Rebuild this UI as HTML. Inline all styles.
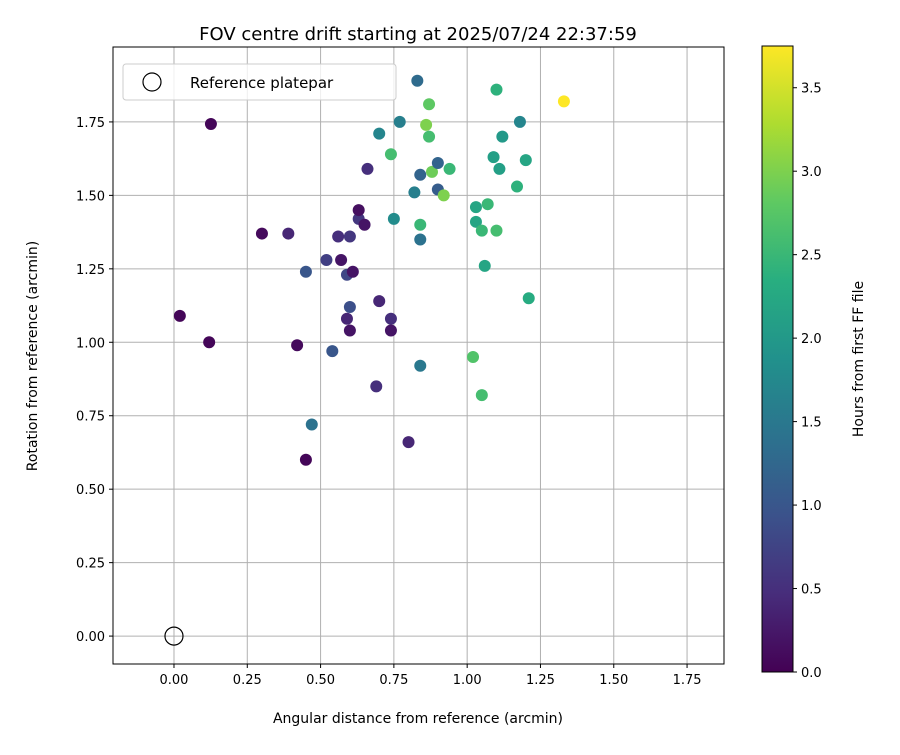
<!DOCTYPE html>
<html><head><meta charset="utf-8"><style>
body{margin:0;background:#fff;font-family:"Liberation Sans","DejaVu Sans",sans-serif;}
svg text{font-family:"DejaVu Sans","Liberation Sans",sans-serif;}
</style></head><body>
<svg id="chart" width="900" height="750" xmlns="http://www.w3.org/2000/svg">
<defs><linearGradient id="vir" x1="0" y1="1" x2="0" y2="0">
<stop offset="0" stop-color="#440154"/><stop offset="0.125" stop-color="#472d7b"/><stop offset="0.25" stop-color="#3b528b"/><stop offset="0.375" stop-color="#2c728e"/><stop offset="0.5" stop-color="#21918c"/><stop offset="0.625" stop-color="#28ae80"/><stop offset="0.75" stop-color="#5ec962"/><stop offset="0.875" stop-color="#addc30"/><stop offset="1" stop-color="#fde725"/></linearGradient></defs>
<g id="g"></g>
</svg>
<script>
const xVals=[0.126,0.30,0.39,0.02,0.12,0.42,0.45,0.45,0.47,0.52,0.54,0.56,0.57,0.59,0.60,0.61,0.60,0.59,0.60,0.63,0.63,0.65,0.66,0.70,0.69,0.70,0.74,0.74,0.74,0.75,0.77,0.80,0.82,0.83,0.84,0.84,0.84,0.84,0.86,0.87,0.87,0.88,0.90,0.90,0.92,0.94,1.02,1.03,1.03,1.05,1.05,1.06,1.07,1.09,1.10,1.10,1.12,1.11,1.17,1.18,1.20,1.21,1.33];
const yVals=[1.743,1.37,1.37,1.09,1.00,0.99,1.24,0.60,0.72,1.28,0.97,1.36,1.28,1.23,1.36,1.24,1.12,1.08,1.04,1.42,1.45,1.40,1.59,1.14,0.85,1.71,1.08,1.04,1.64,1.42,1.75,0.66,1.51,1.89,1.57,1.35,1.40,0.92,1.74,1.81,1.70,1.58,1.61,1.52,1.50,1.59,0.95,1.46,1.41,1.38,0.82,1.26,1.47,1.63,1.86,1.38,1.70,1.59,1.53,1.75,1.62,1.15,1.82];
const hours=[0.05,0.1,0.4,0.05,0.05,0.1,1.0,0.05,1.4,0.7,1.0,0.5,0.2,0.8,0.6,0.2,0.9,0.4,0.2,0.6,0.15,0.2,0.5,0.4,0.5,1.7,0.5,0.2,2.6,1.8,1.6,0.4,1.6,1.3,1.2,1.4,2.5,1.5,3.0,2.8,2.6,2.9,1.2,1.1,3.0,2.5,2.7,2.2,2.2,2.5,2.6,2.2,2.5,2.1,2.4,2.6,2.0,2.1,2.4,1.7,2.2,2.3,3.75];
const xTicks=[0,0.25,0.5,0.75,1.0,1.25,1.5,1.75];
const yTicks=[0,0.25,0.5,0.75,1.0,1.25,1.5,1.75];
const cTicks=[0,0.5,1.0,1.5,2.0,2.5,3.0,3.5];
const L=113,R=724,T=47,B=664,xmin=-0.208,xmax=1.876,ymin=-0.095,ymax=2.005,cmax=3.75;
const X=v=>L+(v-xmin)/(xmax-xmin)*(R-L);
const Y=v=>B-(v-ymin)/(ymax-ymin)*(B-T);
const CT=46,CB=672,CL=762,CR=793;
const C=v=>CB-v/cmax*(CB-CT);
const vir=["#440154","#472d7b","#3b528b","#2c728e","#21918c","#28ae80","#5ec962","#addc30","#fde725"];
function hex(h){return [1,3,5].map(i=>parseInt(h.substr(i,2),16));}
function col(v){let t=Math.max(0,Math.min(1,v/cmax))*8;let i=Math.min(7,Math.floor(t)),f=t-i;let a=hex(vir[i]),b=hex(vir[i+1]);return "rgb("+a.map((c,k)=>Math.round(c+(b[k]-c)*f)).join(",")+")";}
const g=document.getElementById('g');const NS="http://www.w3.org/2000/svg";
function el(t,a,txt){const e=document.createElementNS(NS,t);for(const k in a)e.setAttribute(k,a[k]);if(txt!==undefined)e.textContent=txt;g.appendChild(e);return e;}
let e;
xTicks.forEach(v=>{e=el('line',{x1:X(v),x2:X(v),y1:T,y2:B,stroke:'#b0b0b0','stroke-width':1});
e=el('line',{x1:X(v),x2:X(v),y1:B,y2:B+4,stroke:'#000'});
e=el('text',{x:X(v),y:B+20,'font-size':13,'text-anchor':'middle'},v.toFixed(2));});
yTicks.forEach(v=>{e=el('line',{x1:L,x2:R,y1:Y(v),y2:Y(v),stroke:'#b0b0b0','stroke-width':1});
e=el('line',{x1:L-4,x2:L,y1:Y(v),y2:Y(v),stroke:'#000'});
e=el('text',{x:L-8,y:Y(v)+5,'font-size':13,'text-anchor':'end'},v.toFixed(2));});
xVals.forEach((v,i)=>{e=el('circle',{cx:X(v),cy:Y(yVals[i]),r:6,fill:col(hours[i])});});
e=el('circle',{cx:X(0),cy:Y(0),r:9,fill:'none',stroke:'#000','stroke-width':1.2});
e=el('rect',{x:L,y:T,width:R-L,height:B-T,fill:'none',stroke:'#000','stroke-width':1});
e=el('rect',{x:123,y:64,width:273,height:36,rx:3,fill:'#fff','fill-opacity':0.8,stroke:'#ccc'});
e=el('circle',{cx:152,cy:82,r:9,fill:'none',stroke:'#000','stroke-width':1.2});
e=el('text',{x:190,y:88,'font-size':15},'Reference platepar');
e=el('text',{x:418,y:40,'font-size':18,'text-anchor':'middle'},'FOV centre drift starting at 2025/07/24 22:37:59');
e=el('text',{x:418,y:723,'font-size':14,'text-anchor':'middle'},'Angular distance from reference (arcmin)');
e=el('text',{x:37,y:356,'font-size':14,'text-anchor':'middle',transform:'rotate(-90 37 356)'},'Rotation from reference (arcmin)');
e=el('rect',{x:CL,y:CT,width:CR-CL,height:CB-CT,fill:'url(#vir)',stroke:'#000','stroke-width':1});
cTicks.forEach(v=>{e=el('line',{x1:CR,x2:CR+4,y1:C(v),y2:C(v),stroke:'#000'});
e=el('text',{x:CR+8,y:C(v)+5,'font-size':13},v.toFixed(1));});
e=el('text',{x:863,y:359,'font-size':14,'text-anchor':'middle',transform:'rotate(-90 863 359)'},'Hours from first FF file');
</script>
</body></html>
